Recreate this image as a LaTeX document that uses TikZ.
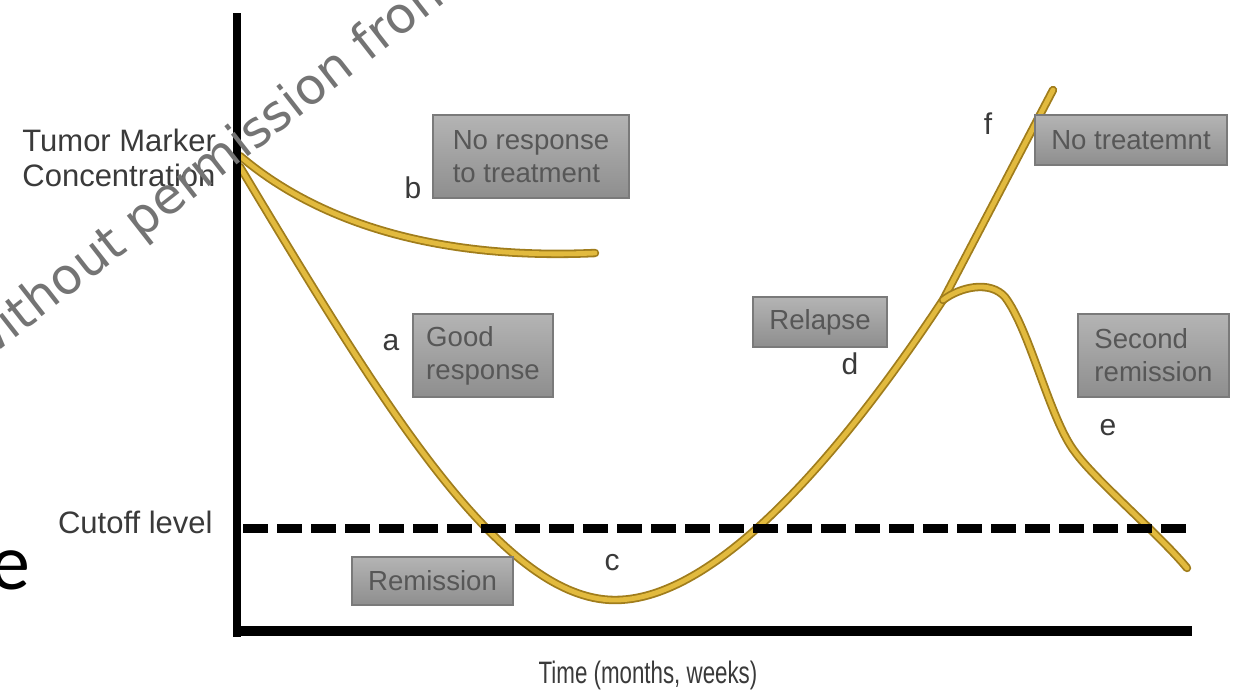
\documentclass[tikz,border=0pt]{standalone}
\usepackage{fontspec}
\setmainfont{Liberation Sans}
\newfontfamily\wmfont{DejaVu Sans}
\newfontfamily\slidefont{Carlito}
\usepackage{xcolor}
\usepackage{tikz}
\usetikzlibrary{positioning}
\definecolor{curveedge}{HTML}{A07D1C}
\definecolor{curvefill}{HTML}{E2BA3E}
\definecolor{boxedge}{HTML}{7A7A7A}
\definecolor{boxtop}{HTML}{B4B4B4}
\definecolor{boxbot}{HTML}{8E8E8E}
\definecolor{boxtext}{HTML}{575757}
\definecolor{labeltext}{HTML}{3A3A3A}
\definecolor{wmgray}{HTML}{747474}

\begin{document}
\begin{tikzpicture}[
      x=0.5pt, y=-0.5pt,
      tbox/.style={draw=boxedge, line width=0.6pt, top color=boxtop, bottom color=boxbot,
                   text=boxtext, align=left, inner sep=0pt,
                   font=\fontsize{13.8}{16.6}\selectfont},
      axlabel/.style={text=labeltext, inner sep=0pt, align=left,
                      font=\fontsize{15.5}{17.5}\selectfont},
      letter/.style={text=labeltext, inner sep=0pt, font=\fontsize{15}{18}\selectfont},
      curve/.style={draw=curveedge, line width=0.9pt, double=curvefill,
                    double distance=2.4pt, line cap=round, line join=round},
      axis/.style={draw=black, line width=4pt},
      cutoff/.style={draw=black, line width=4.5pt, dash pattern=on 12.5pt off 4.5pt},
      wmark/.style={text=wmgray, inner sep=0pt, font=\wmfont\fontsize{25}{30}\selectfont},
    ]
    \useasboundingbox[fill=white] (0,0) rectangle (1235,693);

    % --- axis labels ------------------------------------------------------------
    \node[axlabel, anchor=west] (ylabel) at (22,158) {Tumor Marker\\Concentration};
    \node[axlabel, anchor=base east] (cutlabel) at (213,533) {Cutoff level};
    \node[axlabel, anchor=base, xscale=0.72] (xlabel) at (648,683) {Time (months, weeks)};

    % --- marker curves ----------------------------------------------------------
    \coordinate (low) at (615,600);
    \coordinate (fork) at (943,300);
    \coordinate (fend) at (1053,90);
    \draw[curve] (240,156) .. controls (320,224) and (440,260) .. (595,253);
    \draw[curve] (240,167) .. controls (380,400) and (500,600) .. (low)
      .. controls (735,600) and (880,395) .. (fork) -- (fend);
    \draw[curve] (fork) .. controls (960,287) and (990,280) .. (1005,297)
      .. controls (1030,330) and (1050,420) .. (1075,452)
      .. controls (1095,480) and (1160,535) .. (1187,568);

    % --- axes and cutoff --------------------------------------------------------
    \coordinate (origin) at (237,631);
    \coordinate (ytop) at (237,13);
    \coordinate (xend) at (1192,631);
    \draw[cutoff] (243,528) -- (1192,528);
    \draw[axis] (ytop) -- ([yshift=-3pt]origin);
    \draw[axis, line width=5pt] ([xshift=-2pt]origin) -- (xend);

    % --- curve letters ----------------------------------------------------------
    \node[letter] (la) at (391,343) {a};
    \node[letter] (lb) at (413,188) {b};
    \node[letter] (lc) at (612,563) {c};
    \node[letter] (ld) at (850,364) {d};
    \node[letter] (le) at (1108,428) {e};
    \node[letter] (lf) at (988,124) {f};

    % --- grey boxes -------------------------------------------------------------
    \node[tbox, minimum width=98pt, minimum height=41.5pt] (noresp) at (531,156.5)
      {No response\\to treatment};
    \node[tbox, minimum width=70pt, minimum height=41.5pt] (goodresp) at (483,355.5)
      {Good\\response};
    \node[tbox, minimum width=67pt, minimum height=25pt] (relapse) at (820,322) {Relapse};
    \node[tbox, minimum width=96pt, minimum height=25pt] (notreat) at (1131,140)
      {No treatemnt};
    \node[tbox, minimum width=75.5pt, minimum height=41.5pt] (secrem) at (1153.5,355.5)
      {Second\\remission};
    \node[tbox, minimum width=80.5pt, minimum height=24pt] (remiss) at (432.5,581)
      {Remission};

    % --- slide leftovers --------------------------------------------------------
    \node[anchor=base east, inner sep=0pt, font=\slidefont\fontsize{40}{42}\selectfont]
      (slidee) at (31,589) {e};
    \node[wmark, rotate=38, anchor=base west] (wm) at (-20,366) {without permission from};
  \end{tikzpicture}
\end{document}
